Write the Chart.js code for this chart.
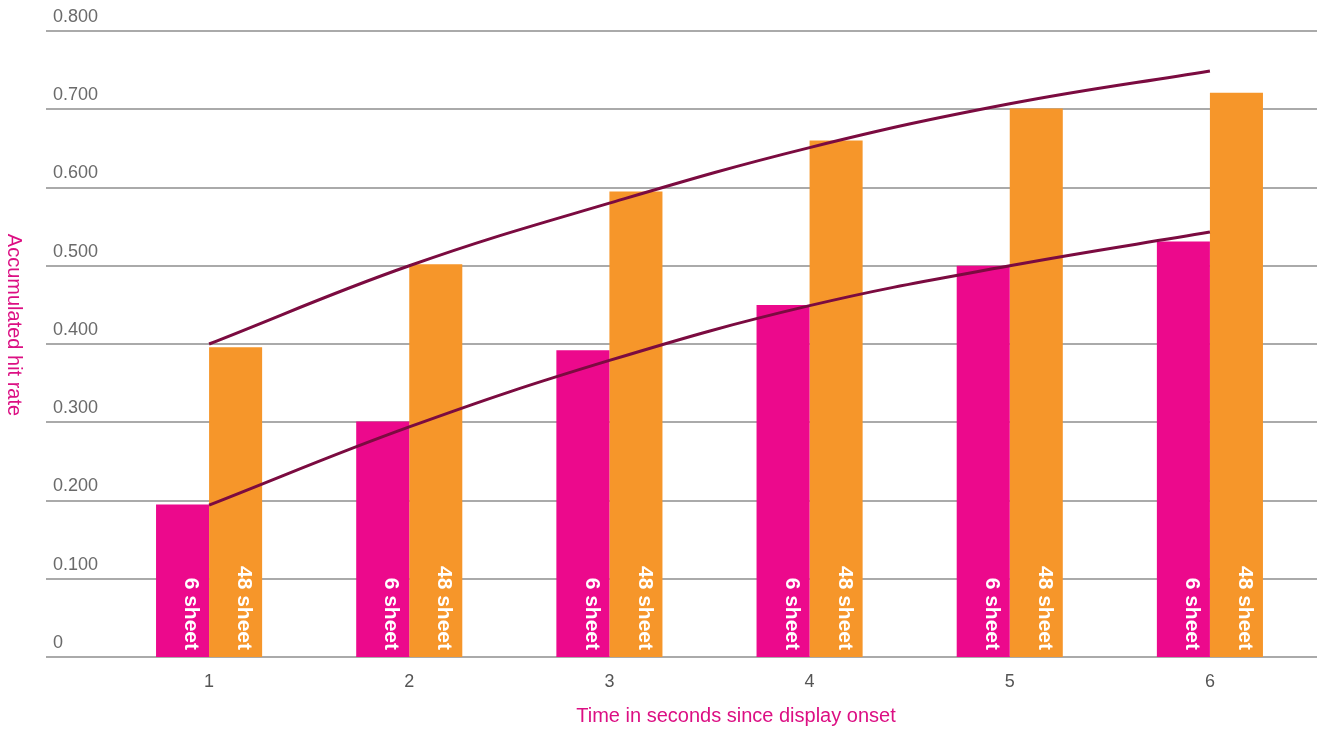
<!DOCTYPE html>
<html>
<head>
<meta charset="utf-8">
<script src="https://cdn.jsdelivr.net/npm/chart.js@4/dist/chart.umd.min.js"></script>
<style>
  html, body { margin: 0; padding: 0; background: #ffffff; }
  canvas { display: block; }
</style>
</head>
<body>
<canvas id="chart" width="1317" height="729"></canvas>
<script>
// Seconds since the display appeared
const seconds = ['1', '2', '3', '4', '5', '6'];

// Accumulated hit rate per condition
const sheet6 = [0.195, 0.301, 0.392, 0.450, 0.500, 0.531];
const sheet48 = [0.396, 0.502, 0.595, 0.660, 0.701, 0.721];

// Fitted trend curves through each condition
const trend6 = [0.194, 0.294, 0.379, 0.449, 0.500, 0.543];
const trend48 = [0.400, 0.500, 0.580, 0.651, 0.707, 0.749];

// Value axis tick labels
const yTickLabels = ['0', '0.100', '0.200', '0.300', '0.400', '0.500', '0.600', '0.700', '0.800'];

// Names written inside the bars
const barNames = ['6 sheet', '48 sheet'];

const FONT = '"Liberation Sans", Arial, Helvetica, sans-serif';
const PINK = '#EC098C';
const ORANGE = '#F6962A';
const TREND = '#7B0B40';
const TITLE_PINK = '#DC0F83';

// Horizontal rules across the full width, one per value tick
const fullWidthGrid = {
  id: 'fullWidthGrid',
  beforeDatasetsDraw(chart) {
    const { ctx, scales: { y } } = chart;
    ctx.save();
    ctx.strokeStyle = '#8e8e8e';
    ctx.lineWidth = 1.5;
    y.ticks.forEach(t => {
      const py = Math.round(y.getPixelForValue(t.value));
      ctx.beginPath();
      ctx.moveTo(46, py);
      ctx.lineTo(chart.width, py);
      ctx.stroke();
    });
    ctx.restore();
  }
};

// Rotated condition names at the foot of each bar
const barNameLabels = {
  id: 'barNameLabels',
  afterDatasetsDraw(chart) {
    const { ctx, scales: { y } } = chart;
    const base = y.getPixelForValue(0);
    ctx.save();
    ctx.fillStyle = '#ffffff';
    ctx.font = 'bold 21px ' + FONT;
    ctx.textAlign = 'right';
    ctx.textBaseline = 'middle';
    [0, 1].forEach(di => {
      const meta = chart.getDatasetMeta(di);
      meta.data.forEach(bar => {
        const cx = bar.x + bar.width / 2 - 18;
        ctx.save();
        ctx.translate(cx, base - 7);
        ctx.rotate(Math.PI / 2);
        ctx.fillText(barNames[di], 0, 0);
        ctx.restore();
      });
    });
    ctx.restore();
  }
};

// Axis titles
const axisTitles = {
  id: 'axisTitles',
  afterDraw(chart) {
    const { ctx } = chart;
    ctx.save();
    ctx.fillStyle = TITLE_PINK;
    ctx.font = '20px ' + FONT;
    ctx.textAlign = 'center';
    ctx.textBaseline = 'middle';
    ctx.fillText('Time in seconds since display onset', 736, 716);
    ctx.translate(14, 325);
    ctx.rotate(Math.PI / 2);
    ctx.fillText('Accumulated hit rate', 0, 0);
    ctx.restore();
  }
};

new Chart(document.getElementById('chart'), {
  data: {
    labels: seconds,
    datasets: [
      {
        type: 'bar',
        label: barNames[0],
        data: sheet6,
        backgroundColor: PINK,
        categoryPercentage: 0.53,
        barPercentage: 1.0,
        order: 1
      },
      {
        type: 'bar',
        label: barNames[1],
        data: sheet48,
        backgroundColor: ORANGE,
        categoryPercentage: 0.53,
        barPercentage: 1.0,
        order: 1
      },
      {
        type: 'line',
        label: '6 sheet trend',
        data: trend6,
        borderColor: TREND,
        borderWidth: 3,
        pointRadius: 0,
        tension: 0.4,
        fill: false,
        order: 0
      },
      {
        type: 'line',
        label: '48 sheet trend',
        data: trend48,
        borderColor: TREND,
        borderWidth: 3,
        pointRadius: 0,
        tension: 0.4,
        fill: false,
        order: 0
      }
    ]
  },
  options: {
    responsive: false,
    animation: false,
    layout: { padding: { left: 53, right: 7, top: 31, bottom: 0 } },
    plugins: {
      legend: { display: false },
      tooltip: { enabled: false }
    },
    scales: {
      x: {
        grid: { display: false, drawTicks: false },
        border: { display: false },
        ticks: { color: '#555555', font: { family: FONT, size: 18 }, padding: 14 },
        afterFit(s) { s.height = 72; }
      },
      y: {
        min: 0,
        max: 0.8,
        grid: { display: false, drawTicks: false },
        border: { display: false },
        ticks: {
          stepSize: 0.1,
          crossAlign: 'far',
          labelOffset: -14,
          padding: 0,
          color: '#6a6a6a',
          font: { family: FONT, size: 18 },
          callback: (v, i) => yTickLabels[i]
        },
        afterFit(s) { s.width = 56; }
      }
    }
  },
  plugins: [fullWidthGrid, barNameLabels, axisTitles]
});
</script>
</body>
</html>
